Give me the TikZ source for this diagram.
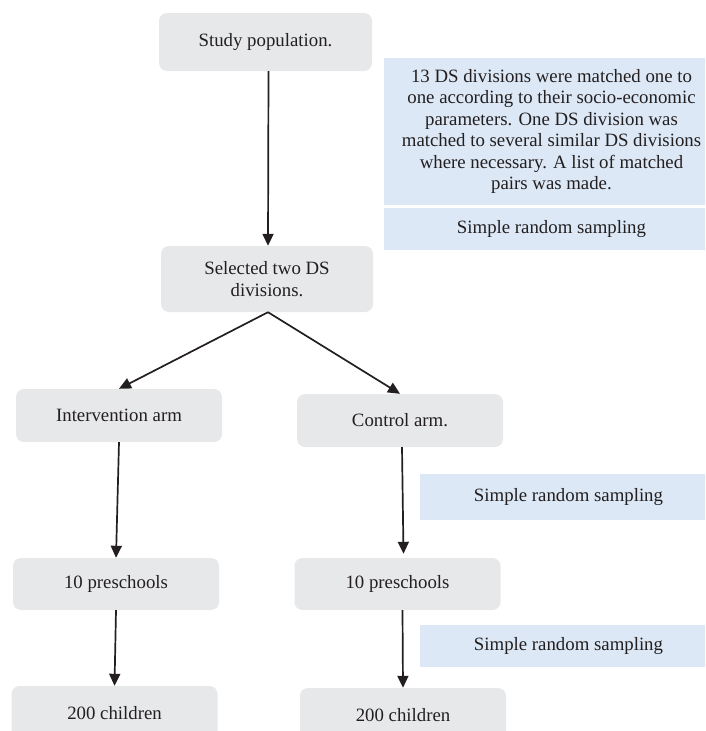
\documentclass[tikz,border=0pt]{standalone}
\usepackage{fontspec}
\setmainfont{Liberation Serif}
\usetikzlibrary{arrows.meta}
\definecolor{boxgray}{HTML}{E7E8EA}
\definecolor{boxblue}{HTML}{DCE8F5}
\definecolor{inkblack}{HTML}{231F20}

\begin{document}
\begin{tikzpicture}[x=1pt,y=-1pt,
    font={\fontsize{18.8}{21.4}\selectfont}, text=inkblack,
    graybox/.style={fill=boxgray, rounded corners=8pt, inner sep=0pt, align=center,
                    minimum width=206pt, minimum height=53pt},
    bluebox/.style={fill=boxblue, inner sep=0pt, align=center},
    flow/.style={-{Triangle[length=12pt,width=11pt]}, line width=1.7pt, draw=inkblack}]
	\useasboundingbox (0,0) rectangle (705,731);
	\clip (0,0) rectangle (705,731);

	% top of the tree
	\node[graybox, minimum width=213pt, minimum height=58pt] (study) at (265.5,42) {Study population.};
	\node[graybox, minimum width=212pt, minimum height=66pt] (selected) at (267,279) {Selected two DS\\divisions.};

	% notes on the right
	\node[bluebox, minimum width=335pt, minimum height=147pt] (matching) at (551.5,131.5)
		{13 DS divisions were matched one to\\one according to their socio-economic\\parameters. One DS division was\\matched to several similar DS divisions\\where necessary. A list of matched\\pairs was made.};
	\node[bluebox, minimum width=335pt, minimum height=42pt] (sampleA) at (551.5,229) {Simple random sampling};
	\node[bluebox, minimum width=297pt, minimum height=46pt] (sampleB) at (568.5,497) {Simple random sampling};
	\node[bluebox, minimum width=297pt, minimum height=42pt] (sampleC) at (568.5,646) {Simple random sampling};

	% the two arms
	\node[graybox] (intervention) at (119,415.5) {Intervention arm};
	\node[graybox] (control) at (400,420.5) {Control arm.};
	\node[graybox, minimum height=52pt] (schoolsL) at (116,584) {10 preschools};
	\node[graybox, minimum height=52pt] (schoolsR) at (397.5,584) {10 preschools};
	\node[graybox, minimum height=54pt] (childrenL) at (114.5,713) {200 children};
	\node[graybox, minimum height=54pt] (childrenR) at (403,715) {200 children};

	% arrows
	\draw[flow] ([xshift=3pt]study.south) -- ([xshift=1pt]selected.north);
	\draw[flow] ([xshift=1pt]selected.south) -- (intervention.north);
	\draw[flow] ([xshift=1pt]selected.south) -- (control.north);
	\draw[flow] (intervention.south) -- (schoolsL.north);
	\draw[flow] ([xshift=2pt]control.south) -- ([xshift=6pt,yshift=4pt]schoolsR.north);
	\draw[flow] (schoolsL.south) -- (childrenL.north);
	\draw[flow] ([xshift=5pt]schoolsR.south) -- (childrenR.north);
\end{tikzpicture}
\end{document}
